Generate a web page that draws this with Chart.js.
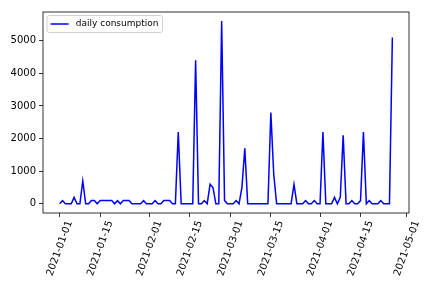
<!DOCTYPE html>
<html><head><meta charset="utf-8">
<script src="https://cdn.jsdelivr.net/npm/chart.js@4"></script>
<style>html,body{margin:0;padding:0;background:#fff;} canvas{display:block;}</style>
</head><body>
<canvas id="c" width="432" height="288"></canvas>
<script>
// ---- data ----
const startDate = '2021-01-01';
const seriesLabel = 'daily consumption';
const dailyConsumption = [
  0, 100, 0, 0, 0, 200, 0, 0, 700, 0,
  0, 100, 100, 0, 100, 100, 100, 100, 100, 0,
  100, 0, 100, 100, 100, 0, 0, 0, 0, 100,
  0, 0, 0, 100, 0, 0, 100, 100, 100, 0,
  0, 2200, 0, 0, 0, 0, 0, 4400, 0, 0,
  100, 0, 600, 500, 0, 0, 5600, 100, 0, 0,
  0, 100, 0, 500, 1700, 0, 0, 0, 0, 0,
  0, 0, 0, 2800, 900, 0, 0, 0, 0, 0,
  0, 600, 0, 0, 0, 100, 0, 0, 100, 0,
  0, 2200, 0, 0, 0, 200, 0, 200, 2100, 0,
  0, 100, 0, 0, 100, 2200, 0, 100, 0, 0,
  0, 100, 0, 0, 0, 5100
];
const xTickDates = ['2021-01-01','2021-01-15','2021-02-01','2021-02-15','2021-03-01','2021-03-15','2021-04-01','2021-04-15','2021-05-01'];
const yTickValues = [0, 1000, 2000, 3000, 4000, 5000];

// ---- helpers ----
const DAY = 86400000;
function toUTC(s){ const p = s.split('-').map(Number); return Date.UTC(p[0], p[1]-1, p[2]); }
const t0 = toUTC(startDate);
function dayIndex(s){ return Math.round((toUTC(s) - t0) / DAY); }
function dateLabel(i){ return new Date(t0 + i*DAY).toISOString().slice(0,10); }

const points = dailyConsumption.map((v, i) => ({x: i, y: v}));
const n = dailyConsumption.length - 1;
const xPad = n * 0.05;
const yMaxData = Math.max(...dailyConsumption), yMinData = Math.min(...dailyConsumption);
const yPad = (yMaxData - yMinData) * 0.05;

Chart.defaults.font.family = "'DejaVu Sans', sans-serif";
Chart.defaults.font.size = 10;
Chart.defaults.color = '#000';

const framePlugin = {
  id: 'frame',
  afterDraw(chart){
    const {ctx, chartArea: a} = chart;
    ctx.save();
    ctx.strokeStyle = '#000';
    ctx.lineWidth = 0.8;
    ctx.strokeRect(a.left, a.top, a.right - a.left, a.bottom - a.top);
    // legend box
    const fs = 9;
    ctx.font = fs + "px 'DejaVu Sans', sans-serif";
    const tw = ctx.measureText(seriesLabel).width;
    const bx = a.left + 4, by = a.top + 3.5;
    const bw = 3.6 + 18 + 7.2 + tw + 4, bh = 17;
    const r = 2.5;
    ctx.beginPath();
    ctx.moveTo(bx + r, by);
    ctx.lineTo(bx + bw - r, by); ctx.quadraticCurveTo(bx + bw, by, bx + bw, by + r);
    ctx.lineTo(bx + bw, by + bh - r); ctx.quadraticCurveTo(bx + bw, by + bh, bx + bw - r, by + bh);
    ctx.lineTo(bx + r, by + bh); ctx.quadraticCurveTo(bx, by + bh, bx, by + bh - r);
    ctx.lineTo(bx, by + r); ctx.quadraticCurveTo(bx, by, bx + r, by);
    ctx.closePath();
    ctx.fillStyle = 'rgba(255,255,255,0.8)';
    ctx.fill();
    ctx.strokeStyle = '#d0d0d0';
    ctx.lineWidth = 1;
    ctx.stroke();
    const ly = by + bh / 2;
    ctx.beginPath();
    ctx.moveTo(bx + 3.6, ly); ctx.lineTo(bx + 3.6 + 18, ly);
    ctx.strokeStyle = '#0000ff'; ctx.lineWidth = 1.5; ctx.stroke();
    ctx.fillStyle = '#000';
    ctx.textBaseline = 'middle';
    ctx.textAlign = 'left';
    ctx.fillText(seriesLabel, bx + 3.6 + 18 + 7.2, ly);
    ctx.restore();
  }
};

new Chart(document.getElementById('c'), {
  type: 'line',
  data: { datasets: [{
    label: seriesLabel,
    data: points,
    borderColor: '#0000ff',
    backgroundColor: '#0000ff',
    borderWidth: 1.5,
    pointRadius: 0,
    tension: 0,
    fill: false
  }]},
  options: {
    responsive: false,
    animation: false,
    events: [],
    layout: { padding: { left: 0, right: 23, top: 12, bottom: 0 } },
    plugins: { legend: { display: false }, tooltip: { enabled: false } },
    scales: {
      x: {
        type: 'linear',
        min: -xPad, max: n + xPad,
        afterBuildTicks: s => { s.ticks = xTickDates.map(d => ({value: dayIndex(d)})); },
        afterFit: s => { s.height = 75; },
        ticks: {
          autoSkip: false, minRotation: 70, maxRotation: 70,
          padding: 2, labelOffset: 10,
          callback: v => dateLabel(v)
        },
        grid: { display: true, drawOnChartArea: false, drawTicks: true, tickLength: 4, color: '#000', lineWidth: 0.8 },
        border: { display: false }
      },
      y: {
        min: yMinData - yPad, max: yMaxData + yPad,
        afterBuildTicks: s => { s.ticks = yTickValues.map(v => ({value: v})); },
        afterFit: s => { s.width = 43; },
        ticks: { padding: 3, callback: v => String(v) },
        grid: { display: true, drawOnChartArea: false, drawTicks: true, tickLength: 4, color: '#000', lineWidth: 0.8 },
        border: { display: false }
      }
    }
  },
  plugins: [framePlugin]
});
</script>
</body></html>
